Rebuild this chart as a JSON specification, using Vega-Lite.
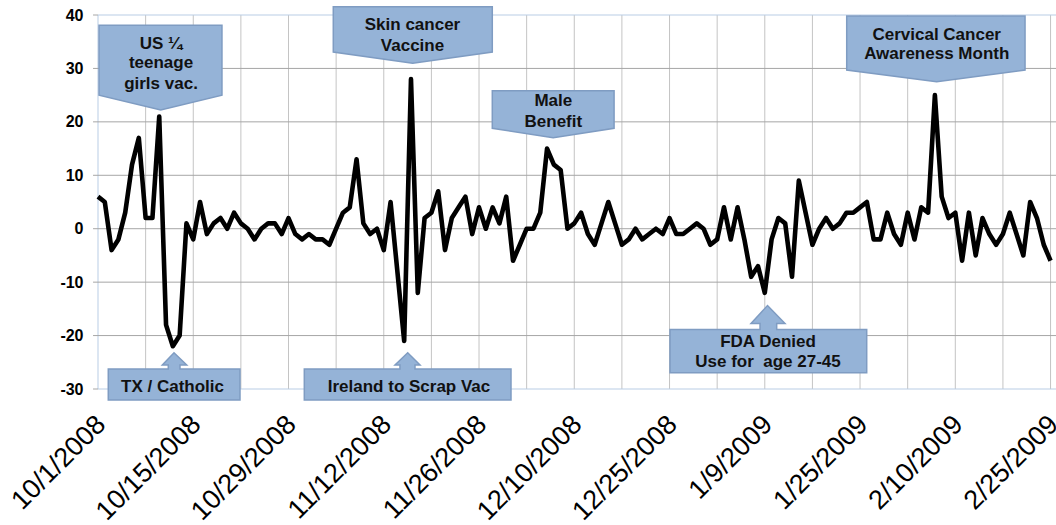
{
"$schema": "https://vega.github.io/schema/vega-lite/v6.json",
"width": 958,
"height": 374,
"autosize": {"type": "none"},
"padding": {"left": 98, "top": 15, "right": 0, "bottom": 136},
"background": "white",
"config": {"view": {"stroke": null}, "font": "Liberation Sans"},
"datasets": {
"series": [
{"idx":0,"date":"10/1/2008","value":6},{"idx":1,"date":"10/2/2008","value":5},{"idx":2,"date":"10/3/2008","value":-4},{"idx":3,"date":"10/4/2008","value":-2},{"idx":4,"date":"10/5/2008","value":3},{"idx":5,"date":"10/6/2008","value":12},{"idx":6,"date":"10/7/2008","value":17},{"idx":7,"date":"10/8/2008","value":2},{"idx":8,"date":"10/9/2008","value":2},{"idx":9,"date":"10/10/2008","value":21},
{"idx":10,"date":"10/11/2008","value":-18},{"idx":11,"date":"10/12/2008","value":-22},{"idx":12,"date":"10/13/2008","value":-20},{"idx":13,"date":"10/14/2008","value":1},{"idx":14,"date":"10/15/2008","value":-2},{"idx":15,"date":"10/16/2008","value":5},{"idx":16,"date":"10/17/2008","value":-1},{"idx":17,"date":"10/18/2008","value":1},{"idx":18,"date":"10/19/2008","value":2},{"idx":19,"date":"10/20/2008","value":0},
{"idx":20,"date":"10/21/2008","value":3},{"idx":21,"date":"10/22/2008","value":1},{"idx":22,"date":"10/23/2008","value":0},{"idx":23,"date":"10/24/2008","value":-2},{"idx":24,"date":"10/25/2008","value":0},{"idx":25,"date":"10/26/2008","value":1},{"idx":26,"date":"10/27/2008","value":1},{"idx":27,"date":"10/28/2008","value":-1},{"idx":28,"date":"10/29/2008","value":2},{"idx":29,"date":"10/30/2008","value":-1},
{"idx":30,"date":"10/31/2008","value":-2},{"idx":31,"date":"11/1/2008","value":-1},{"idx":32,"date":"11/2/2008","value":-2},{"idx":33,"date":"11/3/2008","value":-2},{"idx":34,"date":"11/4/2008","value":-3},{"idx":35,"date":"11/5/2008","value":0},{"idx":36,"date":"11/6/2008","value":3},{"idx":37,"date":"11/7/2008","value":4},{"idx":38,"date":"11/8/2008","value":13},{"idx":39,"date":"11/9/2008","value":1},
{"idx":40,"date":"11/10/2008","value":-1},{"idx":41,"date":"11/11/2008","value":0},{"idx":42,"date":"11/12/2008","value":-4},{"idx":43,"date":"11/13/2008","value":5},{"idx":44,"date":"11/14/2008","value":-8},{"idx":45,"date":"11/15/2008","value":-21},{"idx":46,"date":"11/16/2008","value":28},{"idx":47,"date":"11/17/2008","value":-12},{"idx":48,"date":"11/18/2008","value":2},{"idx":49,"date":"11/19/2008","value":3},
{"idx":50,"date":"11/20/2008","value":7},{"idx":51,"date":"11/21/2008","value":-4},{"idx":52,"date":"11/22/2008","value":2},{"idx":53,"date":"11/23/2008","value":4},{"idx":54,"date":"11/24/2008","value":6},{"idx":55,"date":"11/25/2008","value":-1},{"idx":56,"date":"11/26/2008","value":4},{"idx":57,"date":"11/27/2008","value":0},{"idx":58,"date":"11/28/2008","value":4},{"idx":59,"date":"11/29/2008","value":1},
{"idx":60,"date":"11/30/2008","value":6},{"idx":61,"date":"12/1/2008","value":-6},{"idx":62,"date":"12/2/2008","value":-3},{"idx":63,"date":"12/3/2008","value":0},{"idx":64,"date":"12/4/2008","value":0},{"idx":65,"date":"12/5/2008","value":3},{"idx":66,"date":"12/6/2008","value":15},{"idx":67,"date":"12/7/2008","value":12},{"idx":68,"date":"12/8/2008","value":11},{"idx":69,"date":"12/9/2008","value":0},
{"idx":70,"date":"12/10/2008","value":1},{"idx":71,"date":"12/11/2008","value":3},{"idx":72,"date":"12/12/2008","value":-1},{"idx":73,"date":"12/13/2008","value":-3},{"idx":74,"date":"12/14/2008","value":1},{"idx":75,"date":"12/15/2008","value":5},{"idx":76,"date":"12/16/2008","value":1},{"idx":77,"date":"12/18/2008","value":-3},{"idx":78,"date":"12/19/2008","value":-2},{"idx":79,"date":"12/20/2008","value":0},
{"idx":80,"date":"12/21/2008","value":-2},{"idx":81,"date":"12/22/2008","value":-1},{"idx":82,"date":"12/23/2008","value":0},{"idx":83,"date":"12/24/2008","value":-1},{"idx":84,"date":"12/25/2008","value":2},{"idx":85,"date":"12/26/2008","value":-1},{"idx":86,"date":"12/27/2008","value":-1},{"idx":87,"date":"12/28/2008","value":0},{"idx":88,"date":"12/29/2008","value":1},{"idx":89,"date":"12/30/2008","value":0},
{"idx":90,"date":"12/31/2008","value":-3},{"idx":91,"date":"1/2/2009","value":-2},{"idx":92,"date":"1/3/2009","value":4},{"idx":93,"date":"1/4/2009","value":-2},{"idx":94,"date":"1/5/2009","value":4},{"idx":95,"date":"1/6/2009","value":-2},{"idx":96,"date":"1/7/2009","value":-9},{"idx":97,"date":"1/8/2009","value":-7},{"idx":98,"date":"1/9/2009","value":-12},{"idx":99,"date":"1/10/2009","value":-2},
{"idx":100,"date":"1/11/2009","value":2},{"idx":101,"date":"1/12/2009","value":1},{"idx":102,"date":"1/13/2009","value":-9},{"idx":103,"date":"1/14/2009","value":9},{"idx":104,"date":"1/16/2009","value":3},{"idx":105,"date":"1/17/2009","value":-3},{"idx":106,"date":"1/18/2009","value":0},{"idx":107,"date":"1/19/2009","value":2},{"idx":108,"date":"1/21/2009","value":0},{"idx":109,"date":"1/22/2009","value":1},
{"idx":110,"date":"1/23/2009","value":3},{"idx":111,"date":"1/24/2009","value":3},{"idx":112,"date":"1/25/2009","value":4},{"idx":113,"date":"1/26/2009","value":5},{"idx":114,"date":"1/27/2009","value":-2},{"idx":115,"date":"1/28/2009","value":-2},{"idx":116,"date":"1/29/2009","value":3},{"idx":117,"date":"1/30/2009","value":-1},{"idx":118,"date":"1/31/2009","value":-3},{"idx":119,"date":"2/1/2009","value":3},
{"idx":120,"date":"2/2/2009","value":-2},{"idx":121,"date":"2/4/2009","value":4},{"idx":122,"date":"2/5/2009","value":3},{"idx":123,"date":"2/6/2009","value":25},{"idx":124,"date":"2/8/2009","value":6},{"idx":125,"date":"2/9/2009","value":2},{"idx":126,"date":"2/10/2009","value":3},{"idx":127,"date":"2/11/2009","value":-6},{"idx":128,"date":"2/12/2009","value":3},{"idx":129,"date":"2/13/2009","value":-5},
{"idx":130,"date":"2/14/2009","value":2},{"idx":131,"date":"2/15/2009","value":-1},{"idx":132,"date":"2/17/2009","value":-3},{"idx":133,"date":"2/18/2009","value":-1},{"idx":134,"date":"2/19/2009","value":3},{"idx":135,"date":"2/20/2009","value":-1},{"idx":136,"date":"2/21/2009","value":-5},{"idx":137,"date":"2/22/2009","value":5},{"idx":138,"date":"2/23/2009","value":2},{"idx":139,"date":"2/24/2009","value":-3},
{"idx":140,"date":"2/25/2009","value":-6}
],
"grid": [
{"line":"v0","kind":"edge","gx":0,"gy":-30},{"line":"v0","kind":"edge","gx":0,"gy":40},
{"line":"v7","kind":"v","gx":7,"gy":-30},{"line":"v7","kind":"v","gx":7,"gy":40},
{"line":"v14","kind":"v","gx":14,"gy":-30},{"line":"v14","kind":"v","gx":14,"gy":40},
{"line":"v21","kind":"v","gx":21,"gy":-30},{"line":"v21","kind":"v","gx":21,"gy":40},
{"line":"v28","kind":"v","gx":28,"gy":-30},{"line":"v28","kind":"v","gx":28,"gy":40},
{"line":"v35","kind":"v","gx":35,"gy":-30},{"line":"v35","kind":"v","gx":35,"gy":40},
{"line":"v42","kind":"v","gx":42,"gy":-30},{"line":"v42","kind":"v","gx":42,"gy":40},
{"line":"v49","kind":"v","gx":49,"gy":-30},{"line":"v49","kind":"v","gx":49,"gy":40},
{"line":"v56","kind":"v","gx":56,"gy":-30},{"line":"v56","kind":"v","gx":56,"gy":40},
{"line":"v63","kind":"v","gx":63,"gy":-30},{"line":"v63","kind":"v","gx":63,"gy":40},
{"line":"v70","kind":"v","gx":70,"gy":-30},{"line":"v70","kind":"v","gx":70,"gy":40},
{"line":"v77","kind":"v","gx":77,"gy":-30},{"line":"v77","kind":"v","gx":77,"gy":40},
{"line":"v84","kind":"v","gx":84,"gy":-30},{"line":"v84","kind":"v","gx":84,"gy":40},
{"line":"v91","kind":"v","gx":91,"gy":-30},{"line":"v91","kind":"v","gx":91,"gy":40},
{"line":"v98","kind":"v","gx":98,"gy":-30},{"line":"v98","kind":"v","gx":98,"gy":40},
{"line":"v105","kind":"v","gx":105,"gy":-30},{"line":"v105","kind":"v","gx":105,"gy":40},
{"line":"v112","kind":"v","gx":112,"gy":-30},{"line":"v112","kind":"v","gx":112,"gy":40},
{"line":"v119","kind":"v","gx":119,"gy":-30},{"line":"v119","kind":"v","gx":119,"gy":40},
{"line":"v126","kind":"v","gx":126,"gy":-30},{"line":"v126","kind":"v","gx":126,"gy":40},
{"line":"v133","kind":"v","gx":133,"gy":-30},{"line":"v133","kind":"v","gx":133,"gy":40},
{"line":"v140","kind":"v","gx":140,"gy":-30},{"line":"v140","kind":"v","gx":140,"gy":40},
{"line":"h-30","kind":"edge","gx":0,"gy":-30},{"line":"h-30","kind":"edge","gx":140.8,"gy":-30},
{"line":"h-20","kind":"h","gx":0,"gy":-20},{"line":"h-20","kind":"h","gx":140.8,"gy":-20},
{"line":"h-10","kind":"h","gx":0,"gy":-10},{"line":"h-10","kind":"h","gx":140.8,"gy":-10},
{"line":"h0","kind":"h","gx":0,"gy":0},{"line":"h0","kind":"h","gx":140.8,"gy":0},
{"line":"h10","kind":"h","gx":0,"gy":10},{"line":"h10","kind":"h","gx":140.8,"gy":10},
{"line":"h20","kind":"h","gx":0,"gy":20},{"line":"h20","kind":"h","gx":140.8,"gy":20},
{"line":"h30","kind":"h","gx":0,"gy":30},{"line":"h30","kind":"h","gx":140.8,"gy":30},
{"line":"h40","kind":"edge","gx":0,"gy":40},{"line":"h40","kind":"edge","gx":140.8,"gy":40},
{"line":"t-30","kind":"tick","gx":-0.73,"gy":-30},{"line":"t-30","kind":"tick","gx":0,"gy":-30},
{"line":"t-20","kind":"tick","gx":-0.73,"gy":-20},{"line":"t-20","kind":"tick","gx":0,"gy":-20},
{"line":"t-10","kind":"tick","gx":-0.73,"gy":-10},{"line":"t-10","kind":"tick","gx":0,"gy":-10},
{"line":"t0","kind":"tick","gx":-0.73,"gy":0},{"line":"t0","kind":"tick","gx":0,"gy":0},
{"line":"t10","kind":"tick","gx":-0.73,"gy":10},{"line":"t10","kind":"tick","gx":0,"gy":10},
{"line":"t20","kind":"tick","gx":-0.73,"gy":20},{"line":"t20","kind":"tick","gx":0,"gy":20},
{"line":"t30","kind":"tick","gx":-0.73,"gy":30},{"line":"t30","kind":"tick","gx":0,"gy":30},
{"line":"t40","kind":"tick","gx":-0.73,"gy":40},{"line":"t40","kind":"tick","gx":0,"gy":40}
],
"callouts": [
{"shape":"us","order":0,"x":0.15,"y":38.1},{"shape":"us","order":1,"x":18.22,"y":38.1},{"shape":"us","order":2,"x":18.22,"y":25.0},{"shape":"us","order":3,"x":9.22,"y":22.2},{"shape":"us","order":4,"x":0.15,"y":25.0},
{"shape":"skin","order":0,"x":34.58,"y":41.55},{"shape":"skin","order":1,"x":57.95,"y":41.55},{"shape":"skin","order":2,"x":57.95,"y":33.07},{"shape":"skin","order":3,"x":46.25,"y":30.96},{"shape":"skin","order":4,"x":34.58,"y":33.07},
{"shape":"male","order":0,"x":57.95,"y":25.83},{"shape":"male","order":1,"x":75.85,"y":25.83},{"shape":"male","order":2,"x":75.85,"y":18.79},{"shape":"male","order":3,"x":66.9,"y":17.03},{"shape":"male","order":4,"x":57.95,"y":18.79},
{"shape":"cerv","order":0,"x":110.04,"y":39.81},{"shape":"cerv","order":1,"x":136.25,"y":39.81},{"shape":"cerv","order":2,"x":136.25,"y":29.71},{"shape":"cerv","order":3,"x":123.26,"y":27.51},{"shape":"cerv","order":4,"x":110.04,"y":29.71},
{"shape":"tx","order":0,"x":1.51,"y":-32.07},{"shape":"tx","order":1,"x":20.87,"y":-32.07},{"shape":"tx","order":2,"x":20.87,"y":-26.26},{"shape":"tx","order":3,"x":12.05,"y":-26.26},{"shape":"tx","order":4,"x":12.05,"y":-25.52},{"shape":"tx","order":5,"x":13.04,"y":-25.52},{"shape":"tx","order":6,"x":11.17,"y":-23.21},{"shape":"tx","order":7,"x":9.45,"y":-25.52},{"shape":"tx","order":8,"x":10.33,"y":-25.52},{"shape":"tx","order":9,"x":10.33,"y":-26.26},{"shape":"tx","order":10,"x":1.51,"y":-26.26},
{"shape":"ire","order":0,"x":30.32,"y":-32.07},{"shape":"ire","order":1,"x":60.7,"y":-32.07},{"shape":"ire","order":2,"x":60.7,"y":-26.26},{"shape":"ire","order":3,"x":46.59,"y":-26.26},{"shape":"ire","order":4,"x":46.59,"y":-25.52},{"shape":"ire","order":5,"x":47.33,"y":-25.52},{"shape":"ire","order":6,"x":45.52,"y":-23.21},{"shape":"ire","order":7,"x":43.65,"y":-25.52},{"shape":"ire","order":8,"x":44.38,"y":-25.52},{"shape":"ire","order":9,"x":44.38,"y":-26.26},{"shape":"ire","order":10,"x":30.32,"y":-26.26},
{"shape":"fda","order":0,"x":84.07,"y":-26.95},{"shape":"fda","order":1,"x":112.98,"y":-26.95},{"shape":"fda","order":2,"x":112.98,"y":-18.87},{"shape":"fda","order":3,"x":99.75,"y":-18.87},{"shape":"fda","order":4,"x":99.75,"y":-17.74},{"shape":"fda","order":5,"x":100.97,"y":-17.74},{"shape":"fda","order":6,"x":98.4,"y":-14.37},{"shape":"fda","order":7,"x":95.97,"y":-17.74},{"shape":"fda","order":8,"x":97.3,"y":-17.74},{"shape":"fda","order":9,"x":97.3,"y":-18.87},{"shape":"fda","order":10,"x":84.07,"y":-18.87}
],
"labels": [
{"x":9.26,"y":33.6,"label":"US ¼"},{"x":9.26,"y":30.0,"label":"teenage"},{"x":9.26,"y":26.1,"label":"girls vac."},
{"x":46.22,"y":37.2,"label":"Skin cancer"},{"x":46.22,"y":33.3,"label":"Vaccine"},
{"x":66.92,"y":23.0,"label":"Male"},{"x":66.92,"y":19.1,"label":"Benefit"},
{"x":123.27,"y":35.4,"label":"Cervical Cancer"},{"x":123.27,"y":31.7,"label":"Awareness Month"},
{"x":10.95,"y":-30.5,"label":"TX / Catholic"},
{"x":45.71,"y":-30.6,"label":"Ireland to Scrap Vac"},
{"x":98.47,"y":-22.2,"label":"FDA Denied"},{"x":98.47,"y":-25.9,"label":"Use for\u00a0 age 27-45"}
]
},
"layer": [
{
"data": {"name": "grid"},
"mark": {"type": "line", "strokeWidth": 1, "strokeCap": "butt"},
"encoding": {
"x": {"field": "gx", "type": "quantitative", "scale": {"domain": [0, 140.8], "nice": false, "zero": false},
"axis": {"title": null, "values": [0,14,28,42,56,70,84,98,112,126,140],
"labelExpr": "['10/1/2008','10/15/2008','10/29/2008','11/12/2008','11/26/2008','12/10/2008','12/25/2008','1/9/2009','1/25/2009','2/10/2009','2/25/2009'][round(datum.value/14)]",
"grid": false, "ticks": false, "tickSize": 0, "domain": false,
"labelAngle": -45, "labelAlign": "right", "labelBaseline": "middle", "labelFont": "Liberation Sans", "labelFontSize": 27, "labelColor": "#000000",
"labelPadding": 31, "labelOffset": 3, "labelOverlap": false, "labelBound": false, "labelFlush": false}},
"y": {"field": "gy", "type": "quantitative", "scale": {"domain": [-30, 40], "nice": false, "zero": false},
"axis": {"title": null, "values": [-30,-20,-10,0,10,20,30,40], "labelExpr": "'' + datum.value",
"grid": false, "ticks": false, "tickSize": 0, "domain": false,
"labelFont": "Liberation Sans", "labelFontWeight": "bold", "labelFontSize": 16, "labelColor": "#000000", "labelPadding": 15, "labelBaseline": "middle"}},
"detail": {"field": "line"},
"color": {"field": "kind", "type": "nominal", "scale": {"domain": ["edge", "h", "v", "tick"], "range": ["#b9cde5", "#a6a6a6", "#c4c4c4", "#a6a6a6"]}, "legend": null}
}
},
{
"data": {"name": "series"},
"mark": {"type": "line", "color": "#000000", "strokeWidth": 4.6, "strokeJoin": "round"},
"encoding": {
"x": {"field": "idx", "type": "quantitative"},
"y": {"field": "value", "type": "quantitative"}
}
},
{
"data": {"name": "callouts"},
"mark": {"type": "line", "interpolate": "linear-closed", "fill": "#95B3D7", "stroke": "#7F9CC2", "strokeWidth": 1.5, "strokeJoin": "miter"},
"encoding": {
"x": {"field": "x", "type": "quantitative"},
"y": {"field": "y", "type": "quantitative"},
"detail": {"field": "shape"},
"order": {"field": "order", "type": "quantitative"}
}
},
{
"data": {"name": "labels"},
"mark": {"type": "text", "font": "Liberation Sans", "fontWeight": "bold", "fontSize": 17, "color": "#111111", "align": "center", "baseline": "alphabetic"},
"encoding": {
"x": {"field": "x", "type": "quantitative"},
"y": {"field": "y", "type": "quantitative"},
"text": {"field": "label"}
}
}
]
}
